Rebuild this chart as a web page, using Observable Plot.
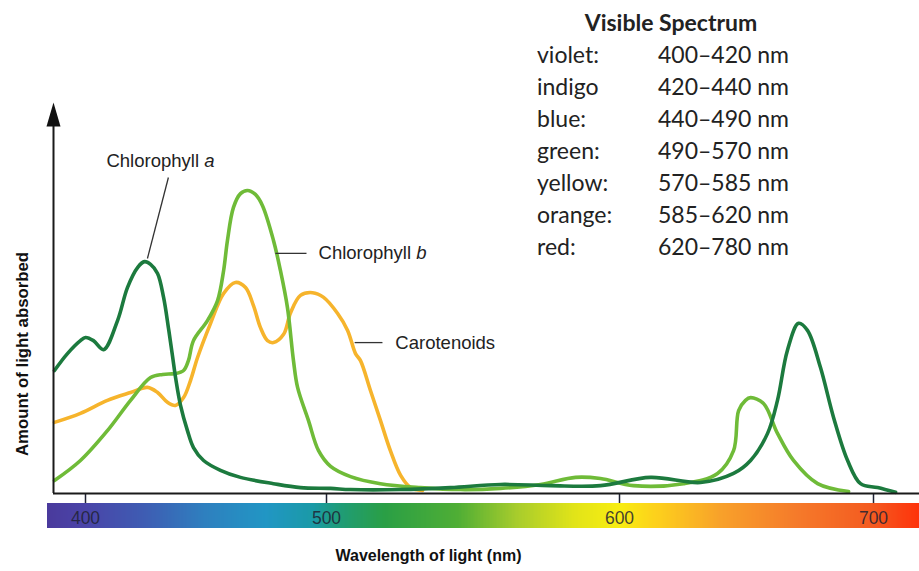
<!DOCTYPE html>
<html>
<head>
<meta charset="utf-8">
<script src="https://cdn.jsdelivr.net/npm/d3@7"></script>
<script src="https://cdn.jsdelivr.net/npm/@observablehq/plot@0.6"></script>
<style>
  html, body { margin: 0; padding: 0; background: #fff; }
  #wrap { position: relative; width: 919px; height: 571px; overflow: hidden; }
  #legend { position: absolute; left: 537px; top: 6px; font-family: Lato, "Open Sans", sans-serif; font-size: 23px; line-height: 32px; color: #222; }
  #legend .title { font-weight: bold; text-align: center; width: 268px; }
  #legend .row { display: flex; }
  #legend .name { width: 121px; }
</style>
</head>
<body>
<div id="wrap"></div>
<script>
// ---------------- data ----------------
const chlAWavelength = [387.1, 392.5, 397.9, 400.0, 403.3, 407.5, 413.3, 417.4, 421.6, 424.5, 427.0, 429.9, 432.4, 434.4, 436.1, 437.5, 439.4, 442.3, 444.8, 449.0, 456.0, 464.3, 478.0, 489.2, 501.4, 508.2, 525.3, 542.3, 559.4, 576.5, 593.5, 612.2, 631.9, 644.9, 651.6, 658.3, 662.2, 666.1, 670.5, 674.0, 679.1, 684.3, 689.8, 694.9, 701.6, 708.7];
const chlAAbsorbance = [31.3, 35.6, 38.9, 39.7, 38.9, 36.6, 44.0, 52.4, 57.5, 59.0, 58.3, 56.0, 49.9, 42.2, 35.0, 29.0, 22.5, 16.0, 11.7, 8.4, 5.9, 4.1, 2.5, 1.5, 1.3, 1.0, 1.0, 1.5, 2.3, 2.0, 2.0, 4.1, 2.8, 5.1, 8.4, 15.3, 23.7, 36.4, 43.3, 41.5, 32.1, 19.3, 8.4, 2.5, 1.5, 0.3];

const chlBWavelength = [387.1, 397.9, 409.1, 418.7, 427.0, 432.0, 437.0, 440.7, 442.7, 444.8, 450.6, 454.8, 457.3, 458.9, 461.4, 464.3, 467.2, 470.5, 473.4, 478.0, 480.9, 483.8, 486.3, 488.0, 492.5, 496.7, 501.4, 508.2, 518.4, 532.1, 545.7, 559.4, 573.0, 585.0, 593.5, 605.5, 625.2, 638.6, 644.9, 646.9, 649.6, 651.6, 656.7, 662.2, 668.5, 678.0, 690.2];
const chlBAbsorbance = [3.3, 8.4, 16.0, 23.7, 29.5, 30.3, 30.5, 31.3, 33.8, 38.9, 44.0, 49.1, 56.7, 64.4, 72.8, 76.3, 77.1, 76.1, 73.3, 64.4, 56.7, 47.3, 33.8, 27.0, 18.6, 10.9, 6.9, 4.3, 2.5, 1.5, 1.0, 1.3, 2.3, 4.1, 3.8, 2.0, 2.5, 5.1, 10.9, 21.1, 23.7, 24.4, 22.9, 15.3, 8.4, 2.5, 0.5];

const carotWavelength = [387.1, 397.9, 409.1, 418.7, 425.7, 429.9, 434.0, 437.3, 440.7, 443.6, 446.5, 451.9, 457.3, 462.2, 466.4, 469.7, 472.6, 475.5, 478.0, 482.2, 485.1, 489.2, 494.2, 498.8, 503.8, 507.2, 509.9, 511.6, 515.0, 518.4, 521.8, 525.3, 528.7, 532.8];
const carotAbsorbance = [18.1, 20.4, 23.7, 25.7, 27.0, 25.7, 23.2, 22.4, 24.4, 28.8, 34.6, 43.3, 50.9, 53.7, 52.4, 47.8, 42.2, 38.9, 38.4, 40.5, 46.0, 50.4, 51.1, 49.9, 45.8, 41.5, 35.6, 33.8, 26.2, 18.6, 10.9, 4.6, 1.5, 0.8];

const xTicks = [400, 500, 600, 700];

const seriesNames = ["Chlorophyll a", "Chlorophyll b", "Carotenoids"];
const labelWavelength = [431.1, 496.7, 523.5];
const labelAbsorbance = [84.7, 61.1, 38.4];
const labelAnchor = ["middle", "start", "start"];
// leader lines: from (x1,y1) to (x2,y2), in wavelength / absorbance units
const leaderX1 = [434.4, 478.8, 509.6];
const leaderY1 = [80.4, 61.1, 38.4];
const leaderX2 = [425.7, 491.7, 519.1];
const leaderY2 = [59.8, 61.1, 38.4];

const xTitle = "Wavelength of light (nm)";
const yTitle = "Amount of light absorbed";

const spectrumColorNames = ["violet:", "indigo", "blue:", "green:", "yellow:", "orange:", "red:"];
const spectrumRanges = ["400–420 nm", "420–440 nm", "440–490 nm", "490–570 nm", "570–585 nm", "585–620 nm", "620–780 nm"];

// ---------------- style config ----------------
const colors = {"Chlorophyll a": "#1c7a3e", "Chlorophyll b": "#6fbb38", "Carotenoids": "#f6b42c"};
const spectrumStopWl =    [384, 400, 425, 450, 475, 495, 505, 520, 545, 565, 585, 600, 615, 640, 670, 700, 720];
const spectrumStopColor = ["#4a3a9c", "#4a44a8", "#3e5db3", "#2e80bf", "#2196c4", "#1a9aa6", "#1f9c76", "#2a9f45", "#4fae35", "#a7cc2c", "#e2e418", "#f8ed12", "#fdd01c", "#f8a12a", "#f57a2a", "#f45a20", "#ff2e08"];
// The figure's wavelength axis is hand-drawn and not uniform: piecewise scale
const xDomain = [386.7, 400, 500, 600, 700, 718.1];
const xRange = [53, 85, 326, 619, 873, 919];
const barBand = [-2.55, -8.95];     // colour bar below the baseline (absorbance units)
const arrowTip = 99.5, arrowBase = 94;
const yTitlePos = {x: 373.9, y: 35.5}; // left of the axis, in scale units
const font = "'Liberation Sans', Arial, Helvetica, sans-serif";
const tickFontSize = 17.5;

// ---------------- build tables ----------------
const curves = [
  ...chlAWavelength.map((w, i) => ({series: "Chlorophyll a", wl: w, abs: chlAAbsorbance[i]})),
  ...chlBWavelength.map((w, i) => ({series: "Chlorophyll b", wl: w, abs: chlBAbsorbance[i]})),
  ...carotWavelength.map((w, i) => ({series: "Carotenoids", wl: w, abs: carotAbsorbance[i]}))
];
const labels = seriesNames.map((s, i) => ({text: s, wl: labelWavelength[i], abs: labelAbsorbance[i], anchor: labelAnchor[i]}));
const leaders = seriesNames.map((s, i) => ({x1: leaderX1[i], y1: leaderY1[i], x2: leaderX2[i], y2: leaderY2[i]}));

const spectrumColor = d3.scaleLinear().domain(spectrumStopWl).range(spectrumStopColor).interpolate(d3.interpolateRgb);
const step = 0.5;
const bins = d3.range(spectrumStopWl[0], spectrumStopWl[spectrumStopWl.length - 1], step).map(w => ({w0: w, w1: w + step + 0.3, c: spectrumColor(w + step / 2)}));

const arrowSymbol = {draw(ctx) { ctx.moveTo(0, 0); ctx.lineTo(-7, 24); ctx.lineTo(7, 24); ctx.closePath(); }};

const lineOrder = ["Carotenoids", "Chlorophyll b", "Chlorophyll a"];
const labelStyle = {x: "wl", y: "abs", text: "text", fontSize: 18.5, fontFamily: font, fill: "#222"};

const plot = Plot.plot({
  width: 919,
  height: 571,
  marginLeft: 53,
  marginRight: 0,
  marginTop: 100,
  marginBottom: 78,
  style: {background: "transparent", fontFamily: font},
  x: {type: "linear", domain: xDomain, range: xRange},
  y: {domain: [0, 100], axis: null},
  color: {type: "identity"},
  marks: [
    Plot.rect(bins, {x1: "w0", x2: "w1", y1: barBand[0], y2: barBand[1], fill: "c", shapeRendering: "crispEdges"}),
    Plot.axisX({ticks: xTicks, tickSize: 10, tickPadding: 8, label: null, fontSize: tickFontSize, fontFamily: font, color: "#1f2233", strokeWidth: 1.5, tickFormat: d => String(d)}),
    ...lineOrder.map(s => Plot.line(curves.filter(d => d.series === s), {x: "wl", y: "abs", stroke: colors[s], strokeWidth: 3.6, curve: "catmull-rom", strokeLinecap: "round"})),
    Plot.ruleY([0], {stroke: "#1a1a1a", strokeWidth: 2}),
    Plot.ruleX([xDomain[0]], {y1: 0, y2: arrowBase, stroke: "#1a1a1a", strokeWidth: 2}),
    Plot.dot([xDomain[0]], {x: d => d, y: arrowTip, symbol: arrowSymbol, fill: "#111", stroke: "none"}),
    Plot.link(leaders, {x1: "x1", y1: "y1", x2: "x2", y2: "y2", stroke: "#333", strokeWidth: 1.3}),
    Plot.text(labels.filter(d => d.anchor === "middle"), {...labelStyle, textAnchor: "middle"}),
    Plot.text(labels.filter(d => d.anchor === "start"), {...labelStyle, textAnchor: "start"}),
    Plot.text([xTitle], {frameAnchor: "bottom", dx: -58, dy: 67, fontSize: 16, fontWeight: "bold", fontFamily: font, fill: "#111"}),
    Plot.text([yTitle], {x: yTitlePos.x, y: yTitlePos.y, rotate: -90, fontSize: 16.8, fontWeight: "bold", fontFamily: font, fill: "#111"})
  ]
});

const svg = d3.select(plot);
const tickStrings = xTicks.map(String);
svg.selectAll("text").each(function() {
  const t = this.textContent;
  // italic series letter in the chlorophyll labels
  if (t === "Chlorophyll a" || t === "Chlorophyll b") {
    const letter = t.slice(-1);
    this.textContent = "";
    this.setAttribute("style", (this.getAttribute("style") || "") + ";white-space:pre");
    d3.select(this).append("tspan").text("Chlorophyll ");
    d3.select(this).append("tspan").attr("font-style", "italic").text(letter);
  }
  // tick labels sit inside the colour bar, larger
  if (tickStrings.includes(t)) {
    d3.select(this).attr("font-size", tickFontSize).style("font-size", tickFontSize + "px").style("font-family", font).attr("fill-opacity", 0.85);
  }
});

const wrap = document.getElementById("wrap");
wrap.appendChild(plot);

const legend = d3.select(wrap).append("div").attr("id", "legend");
legend.append("div").attr("class", "title").text("Visible Spectrum");
spectrumColorNames.forEach((n, i) => {
  const row = legend.append("div").attr("class", "row");
  row.append("div").attr("class", "name").text(n);
  row.append("div").text(spectrumRanges[i]);
});
</script>
</body>
</html>
